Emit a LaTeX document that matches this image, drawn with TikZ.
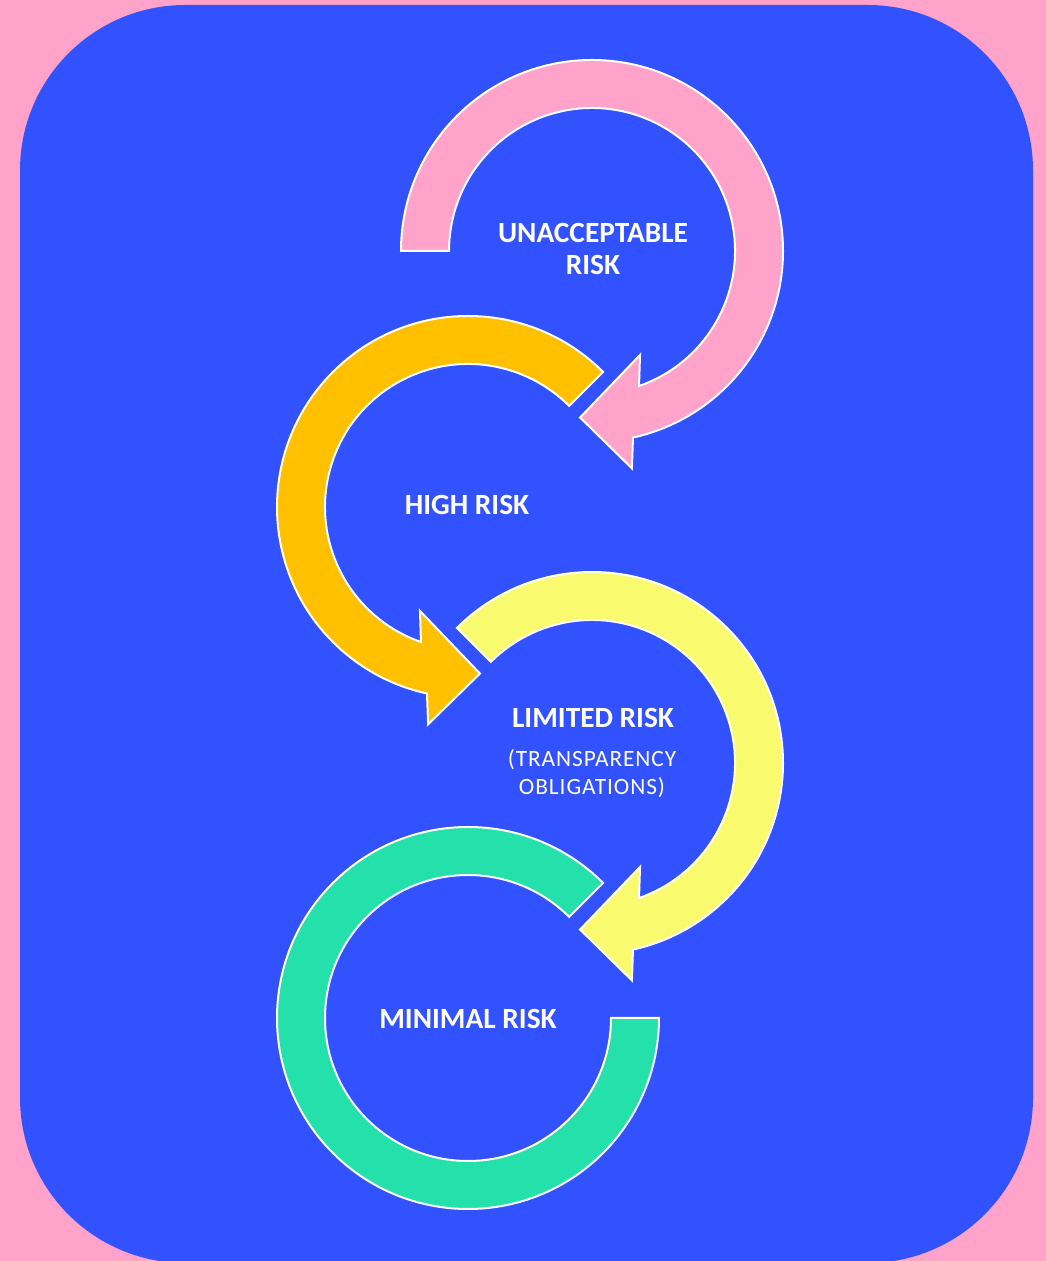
\documentclass[tikz,border=0pt]{standalone}
\usepackage{fontspec}
\setmainfont{Carlito}
\newfontfamily\spacedfont[LetterSpace=4]{Carlito}
\definecolor{bgpink}{HTML}{FFA3CB}
\definecolor{panelblue}{HTML}{3352FF}
\definecolor{riskpink}{HTML}{FFA3CB}
\definecolor{riskorange}{HTML}{FFC000}
\definecolor{riskyellow}{HTML}{FAFA6E}
\definecolor{riskgreen}{HTML}{24E0AA}

\begin{document}
\begin{tikzpicture}[x=0.75pt,y=0.75pt,
    band/.style={draw=white, line width=1.5pt, line join=miter},
    lbl/.style={text=white, inner sep=0pt, align=center, font=\bfseries\fontsize{22}{24}\selectfont},
    sublbl/.style={text=white, inner sep=0pt, align=center, font=\spacedfont\fontsize{17.5}{21}\selectfont}]
\useasboundingbox (0,0) rectangle (1046,1261);
\clip (0,0) rectangle (1046,1261);
% background and panel
\fill [bgpink] (0,0) rectangle (1046,1261);
\fill [panelblue, rounded corners=124pt] (20,-2) rectangle (1033,1256);
% unacceptable risk
\begin{scope}[shift={(592,1010)}]
\draw [band, fill=riskpink] (180:191) arc[start angle=180, end angle=-77.6, radius=191] -- (-79.6:221) -- (-94.1:167) -- (-65.2:114.5) -- (-70.8:143) arc[start angle=-70.8, end angle=180, radius=143] -- cycle;
\end{scope}
% high risk
\begin{scope}[shift={(468,754)}]
\draw [band, fill=riskorange] (45:191) arc[start angle=45, end angle=257.6, radius=191] -- (259.6:221) -- (274.1:167) -- (245.2:114.5) -- (250.8:143) arc[start angle=250.8, end angle=45, radius=143] -- cycle;
\end{scope}
% limited risk
\begin{scope}[shift={(592,498)}]
\draw [band, fill=riskyellow] (135:191) arc[start angle=135, end angle=-77.6, radius=191] -- (-79.6:221) -- (-94.1:167) -- (-65.2:114.5) -- (-70.8:143) arc[start angle=-70.8, end angle=135, radius=143] -- cycle;
\end{scope}
% minimal risk
\begin{scope}[shift={(468,243)}]
\draw [band, fill=riskgreen] (45:191) arc[start angle=45, end angle=360, radius=191] -- (0:143) arc[start angle=360, end angle=45, radius=143] -- cycle;
\end{scope}
% labels
\node [lbl] (unacceptable) at (593,1012) {UNACCEPTABLE\\RISK};
\node [lbl] (high) at (467,756) {HIGH RISK};
\node [lbl] (limited) at (593,543) {LIMITED RISK};
\node [sublbl] (transparency) at (592,487) {(TRANSPARENCY\\OBLIGATIONS)};
\node [lbl] (minimal) at (468,242) {MINIMAL RISK};
\end{tikzpicture}
\end{document}
